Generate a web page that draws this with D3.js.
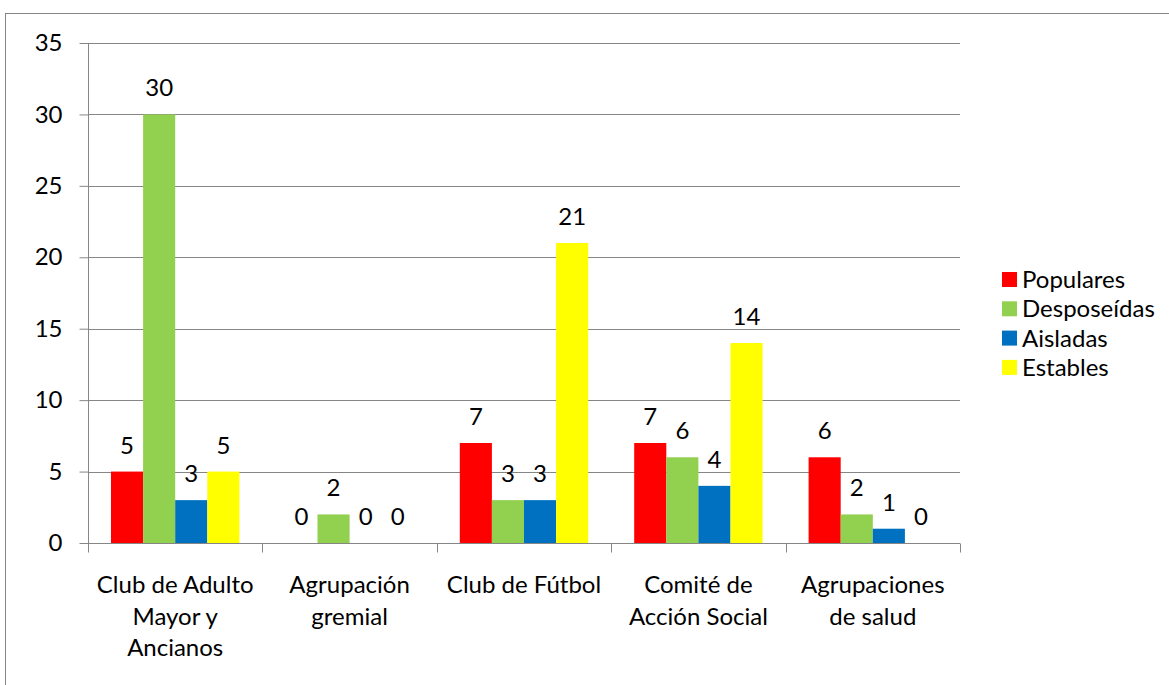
<!DOCTYPE html>
<html><head><meta charset="utf-8">
<script src="https://cdn.jsdelivr.net/npm/d3@7"></script>
<style>body{margin:0;background:#fff}svg{display:block;font-family:Lato,"Open Sans",sans-serif}</style>
</head><body><svg id="c" width="1169" height="685"></svg>
<script>
const categories = [["Club de Adulto","Mayor y","Ancianos"],["Agrupación","gremial"],["Club de Fútbol"],["Comité de","Acción Social"],["Agrupaciones","de salud"]];
const seriesNames = ["Populares","Desposeídas","Aisladas","Estables"];
const populares = [5,0,7,7,6];
const desposeidas = [30,2,3,6,2];
const aisladas = [3,0,3,4,1];
const estables = [5,0,21,14,0];
const yTicks = [0,5,10,15,20,25,30,35];
const colors = ["#FF0000","#92D050","#0070C0","#FFFF00"];
const seriesValues = [populares, desposeidas, aisladas, estables];
const FS = 24;

const svg = d3.select("#c");
svg.append("rect").attr("x",5.5).attr("y",13.5).attr("width",1200).attr("height",700)
  .attr("fill","none").attr("stroke","#868686").attr("stroke-width",1);

const pL=88, pR=960, pT=43, pB=543;
const x0 = d3.scaleBand().domain(d3.range(categories.length)).range([pL,pR]).paddingInner(0).paddingOuter(0);
const x1 = d3.scaleBand().domain(d3.range(seriesNames.length)).range([23, x0.bandwidth()-23]).padding(0);
const y = d3.scaleLinear().domain([0,35]).range([pB,pT]);

// gridlines
svg.append("g").selectAll("line").data(yTicks.filter(d=>d>0)).join("line")
  .attr("x1",pL).attr("x2",pR).attr("y1",d=>Math.round(y(d))+0.5).attr("y2",d=>Math.round(y(d))+0.5)
  .attr("stroke","#868686").attr("stroke-width",1);

// y axis
const yAxis = svg.append("g").attr("transform",`translate(${pL+0.5},0)`)
  .call(d3.axisLeft(y).tickValues(yTicks).tickSize(9).tickPadding(17).tickFormat(d3.format("d")));
yAxis.select(".domain").attr("stroke","#868686").attr("d",`M0,${pT}V${pB}`);
yAxis.selectAll(".tick line").attr("stroke","#868686");
yAxis.selectAll(".tick text").attr("font-size",FS).attr("font-family","Lato, sans-serif").attr("fill","#000");

// bars
const groups = svg.append("g").selectAll("g").data(categories).join("g")
  .attr("transform",(d,i)=>`translate(${x0(i)},0)`);
groups.each(function(cat,i){
  const g = d3.select(this);
  seriesValues.forEach((vals,s)=>{
    const v = vals[i];
    if (v>0) g.append("rect").attr("x",x1(s)).attr("width",x1.bandwidth())
      .attr("y",y(v)).attr("height",y(0)-y(v)).attr("fill",colors[s]);
    g.append("text").attr("x",x1(s)+x1.bandwidth()/2).attr("y",y(v)-18)
      .attr("text-anchor","middle").attr("font-size",FS).text(v);
  });
});

// x axis
const xAxisG = svg.append("g").attr("transform",`translate(0,${pB+0.5})`);
xAxisG.append("line").attr("x1",pL).attr("x2",pR).attr("stroke","#868686");
const bounds = d3.range(categories.length+1).map(i=> i<categories.length? x0(i): pR);
xAxisG.selectAll(".tk").data(bounds).join("line").attr("class","tk")
  .attr("x1",d=>Math.round(d)+0.5).attr("x2",d=>Math.round(d)+0.5).attr("y1",0).attr("y2",9).attr("stroke","#868686");
categories.forEach((lines,i)=>{
  const t = svg.append("text").attr("text-anchor","middle").attr("font-size",FS);
  lines.forEach((l,k)=>t.append("tspan").attr("x",x0(i)+x0.bandwidth()/2).attr("y",593+k*31.5).text(l));
});

// legend
const lg = svg.append("g").attr("transform","translate(1002,272)");
seriesNames.forEach((n,i)=>{
  lg.append("rect").attr("x",0).attr("y",i*29.3).attr("width",15).attr("height",15).attr("fill",colors[i]);
  lg.append("text").attr("x",20).attr("y",i*29.3+16).attr("font-size",FS).text(n);
});
</script></body></html>
